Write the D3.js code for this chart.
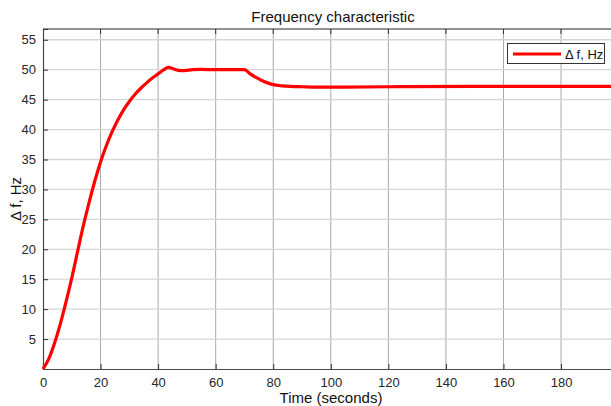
<!DOCTYPE html>
<html>
<head>
<meta charset="utf-8">
<script src="https://cdn.jsdelivr.net/npm/d3@7"></script>
<style>
  body { margin: 0; background: #fff; }
  svg { display: block; font-family: "Liberation Sans", Arial, sans-serif; }
</style>
</head>
<body>
<svg id="chart" width="611" height="406"></svg>
<script>
// time (s) and frequency deviation (Hz)
var timeValues = [0, 2, 4, 6, 8, 10, 12, 14, 16, 18, 20, 22, 24, 26, 28, 30, 32, 34, 36, 38, 40, 42, 43.5, 45, 47, 49, 52, 55, 60, 65, 70, 72, 74, 76, 78, 80, 83, 86, 90, 95, 100, 120, 150, 200];
var freqValues = [0, 1.7, 4.3, 7.5, 11.2, 15.2, 19.6, 23.9, 27.8, 31.4, 34.6, 37.3, 39.6, 41.6, 43.3, 44.7, 45.9, 46.9, 47.8, 48.6, 49.3, 50.0, 50.4, 50.2, 49.9, 49.85, 50.0, 50.05, 50.0, 50.0, 50.0, 49.3, 48.7, 48.2, 47.8, 47.5, 47.3, 47.2, 47.15, 47.1, 47.1, 47.15, 47.2, 47.2];
var xTicks = [0, 20, 40, 60, 80, 100, 120, 140, 160, 180, 200];
var yTicks = [5, 10, 15, 20, 25, 30, 35, 40, 45, 50, 55];
var seriesName = "\u0394 f, Hz";

var margin = { top: 29, left: 43, bottom: 369 };
var svg = d3.select("#chart");

var xScale = d3.scaleLinear().domain([0, 200]).range([margin.left, 618.6]);
var yScale = d3.scaleLinear().domain([0, 56.8]).range([margin.bottom, margin.top]);

// grid
svg.append("g").selectAll("line.vgrid").data(xTicks.slice(1)).enter().append("line")
    .attr("x1", function (d) { return xScale(d); })
    .attr("x2", function (d) { return xScale(d); })
    .attr("y1", yScale(56.8)).attr("y2", yScale(0))
    .attr("stroke", "#a8a8a8").attr("stroke-width", 1);

svg.append("g").selectAll("line.hgrid").data(yTicks).enter().append("line")
    .attr("x1", xScale(0)).attr("x2", xScale(200))
    .attr("y1", function (d) { return yScale(d); })
    .attr("y2", function (d) { return yScale(d); })
    .attr("stroke", "#d6d6d6").attr("stroke-width", 1.3);

// axes (ticks inward, MATLAB style)
var xAxis = d3.axisBottom(xScale).tickValues(xTicks.slice(0, 10)).tickSize(-5).tickPadding(9);
var gx = svg.append("g").attr("transform", "translate(0," + margin.bottom + ")").call(xAxis);
var yAxis = d3.axisLeft(yScale).tickValues(yTicks).tickSize(-5).tickPadding(7);
var gy = svg.append("g").attr("transform", "translate(" + margin.left + ",0)").call(yAxis);

[gx, gy].forEach(function (g)
{
    g.select(".domain").attr("stroke", "#4a4a4a").attr("stroke-width", 1.2);
    g.selectAll(".tick line").attr("stroke", "#333");
    g.selectAll(".tick text").attr("fill", "#262626").style("font-size", "13px");
});

// top border with ticks
svg.append("line")
    .attr("x1", xScale(0)).attr("x2", xScale(200))
    .attr("y1", margin.top).attr("y2", margin.top)
    .attr("stroke", "#262626").attr("stroke-width", 1);
svg.append("g").selectAll("line").data(xTicks.slice(1, 10)).enter().append("line")
    .attr("x1", function (d) { return xScale(d); })
    .attr("x2", function (d) { return xScale(d); })
    .attr("y1", margin.top).attr("y2", margin.top + 5)
    .attr("stroke", "#333");

// curve
var line = d3.line()
    .x(function (d) { return xScale(d[0]); })
    .y(function (d) { return yScale(d[1]); })
    .curve(d3.curveMonotoneX);

svg.append("path")
    .datum(timeValues.map(function (t, i) { return [t, freqValues[i]]; }))
    .attr("fill", "none")
    .attr("stroke", "#ff0000")
    .attr("stroke-width", 3.2)
    .attr("stroke-linejoin", "round")
    .attr("d", line);

// title and labels
svg.append("text")
    .attr("x", 333).attr("y", 22)
    .attr("text-anchor", "middle")
    .style("font-size", "15px").attr("fill", "#111")
    .text("Frequency characteristic");

svg.append("text")
    .attr("x", 331).attr("y", 403)
    .attr("text-anchor", "middle")
    .style("font-size", "15px").attr("fill", "#111")
    .text("Time (seconds)");

svg.append("text")
    .attr("transform", "translate(21,199) rotate(-90)")
    .attr("text-anchor", "middle")
    .style("font-size", "15px").attr("fill", "#111")
    .text(seriesName);

// legend
var legend = svg.append("g");
legend.append("rect")
    .attr("x", 507.5).attr("y", 43.5).attr("width", 97).attr("height", 20)
    .attr("fill", "#fff").attr("stroke", "#333").attr("stroke-width", 1);
legend.append("line")
    .attr("x1", 513).attr("x2", 561).attr("y1", 54).attr("y2", 54)
    .attr("stroke", "#ff0000").attr("stroke-width", 3.2);
legend.append("text")
    .attr("x", 565).attr("y", 58.5)
    .style("font-size", "13px").attr("fill", "#111")
    .text(seriesName);
</script>
</body>
</html>
